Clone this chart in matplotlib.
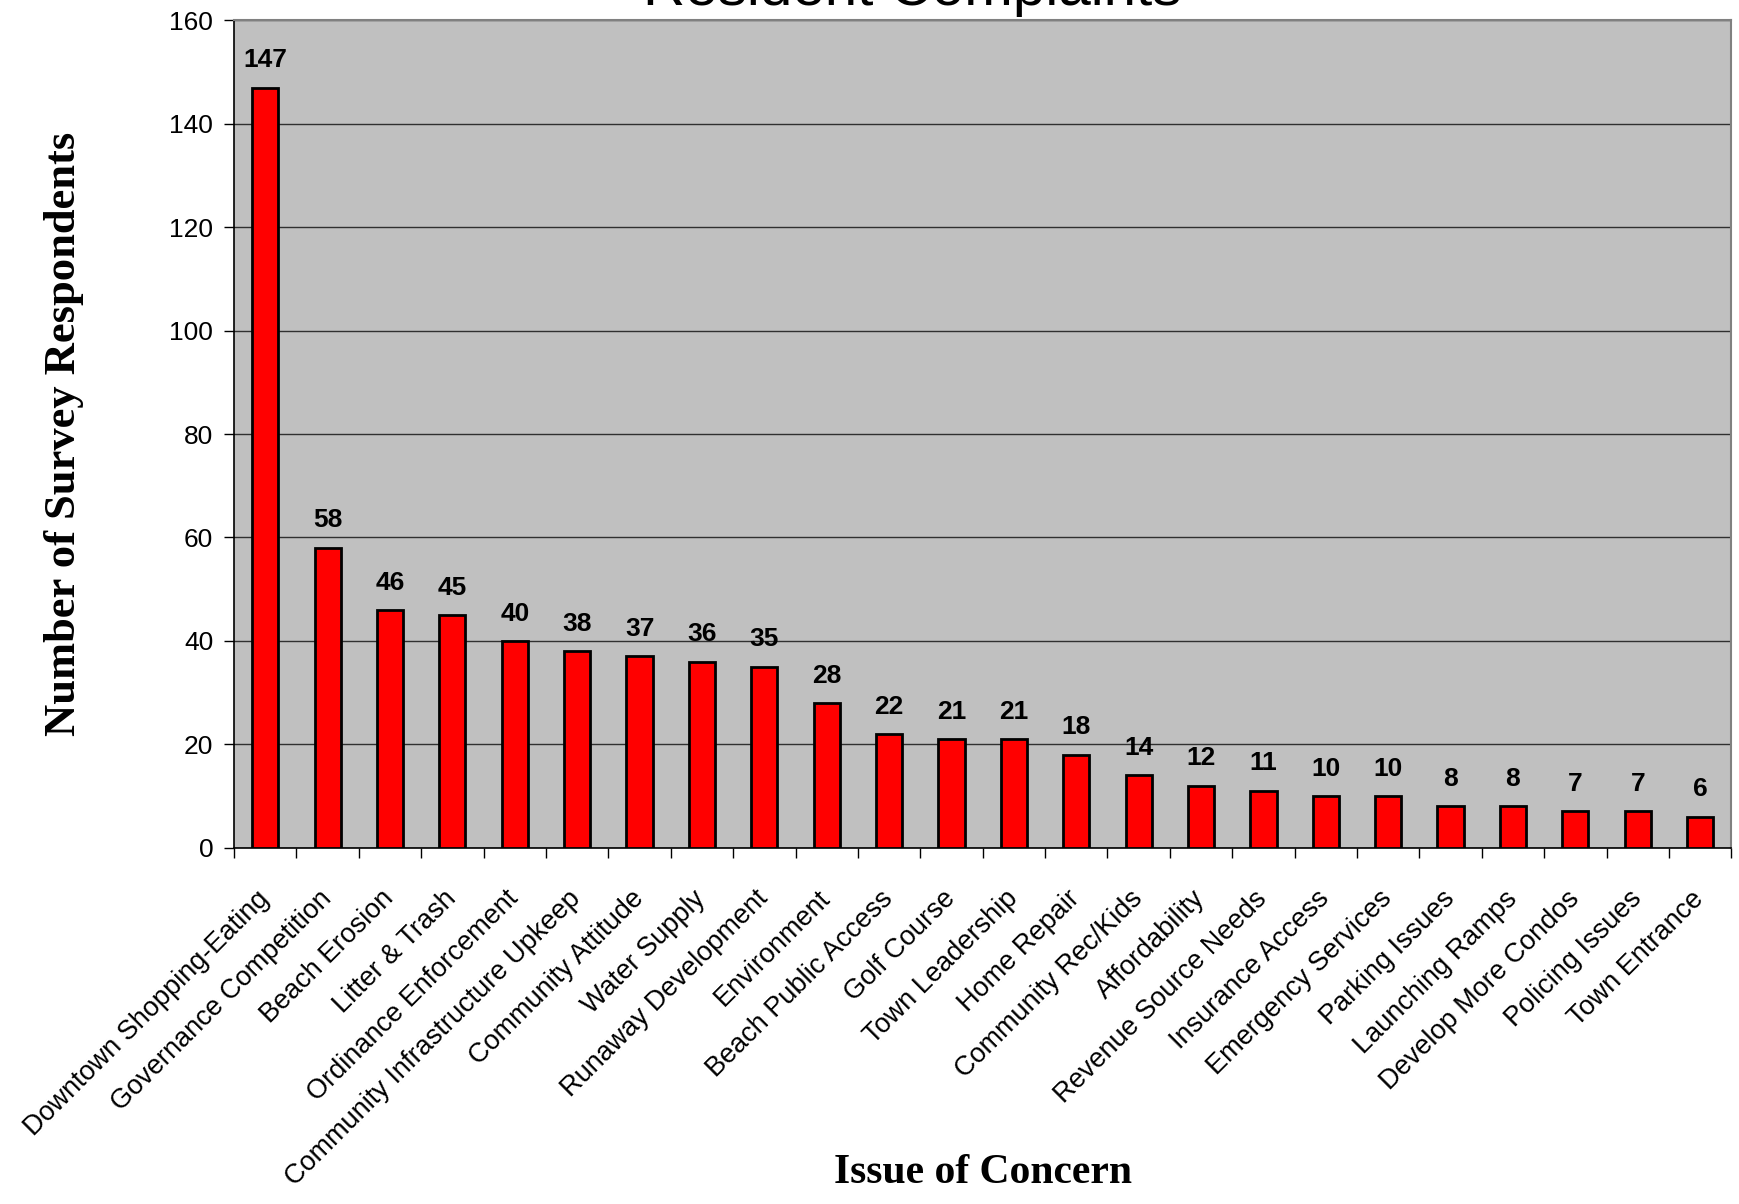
import matplotlib
matplotlib.use("Agg")
import matplotlib.pyplot as plt
from matplotlib.ticker import FixedLocator, MultipleLocator

issues = [
    "Downtown Shopping-Eating", "Governance Competition", "Beach Erosion",
    "Litter & Trash", "Ordinance Enforcement", "Community Infrastructure Upkeep",
    "Community Attitude", "Water Supply", "Runaway Development", "Environment",
    "Beach Public Access", "Golf Course", "Town Leadership", "Home Repair",
    "Community Rec/Kids", "Affordability", "Revenue Source Needs",
    "Insurance Access", "Emergency Services", "Parking Issues",
    "Launching Ramps", "Develop More Condos", "Policing Issues", "Town Entrance",
]
respondents = [147, 58, 46, 45, 40, 38, 37, 36, 35, 28, 22, 21, 21, 18,
               14, 12, 11, 10, 10, 8, 8, 7, 7, 6]

SANS = ["Liberation Sans", "DejaVu Sans"]
SERIF = ["Liberation Serif", "DejaVu Serif"]

fig = plt.figure(figsize=(17.4, 12.04), dpi=100)
ax = fig.add_axes([0.1345, 0.296, 0.8605, 0.687])
ax.set_facecolor("#C0C0C0")

x = range(len(issues))
bars = ax.bar(x, respondents, width=0.42, color="#FF0000",
              edgecolor="black", linewidth=2, zorder=3)
for rect, val in zip(bars, respondents):
    ax.annotate(str(val), (rect.get_x() + rect.get_width() / 2, val),
                xytext=(0, 11), textcoords="offset points",
                ha="center", va="bottom", fontsize=19, fontweight="bold",
                family=SANS)

ax.set_xlim(-0.5, len(issues) - 0.5)
ax.set_ylim(0, 160)
ax.yaxis.set_major_locator(MultipleLocator(20))
ax.grid(axis="y", color="#303030", linewidth=1, zorder=1)

# labels sit under bar centres, category ticks between bars
ax.set_xticks(list(x))
ax.set_xticklabels(issues, rotation=45, ha="right", va="center",
                   rotation_mode="anchor", fontsize=19.5, family=SANS)
ax.tick_params(axis="x", which="major", length=0, pad=34)
ax.xaxis.set_minor_locator(FixedLocator([i - 0.5 for i in range(len(issues) + 1)]))
ax.tick_params(axis="x", which="minor", length=7, width=1, direction="out")
ax.tick_params(axis="y", length=7, width=1, labelsize=19, pad=8)
for lab in ax.get_yticklabels():
    lab.set_family(SANS)

for side in ("left", "bottom"):
    ax.spines[side].set_color("black")
    ax.spines[side].set_linewidth(1.2)
for side in ("top", "right"):
    ax.spines[side].set_color("#808080")
    ax.spines[side].set_linewidth(1.5)

ax.set_ylabel("Number of Survey Respondents", fontsize=32, fontweight="bold",
              family=SERIF)
ax.yaxis.set_label_coords(-0.1005, 0.5)
fig.text(0.565, 0.026, "Issue of Concern", ha="center", va="center",
         fontsize=30, fontweight="bold", family=SERIF)

fig.text(0.524, 1 - 5 / 1204, "Resident Complaints", ha="center",
         va="baseline", fontsize=42, family=SANS)

fig.savefig("out.png", dpi=100, facecolor="white")
